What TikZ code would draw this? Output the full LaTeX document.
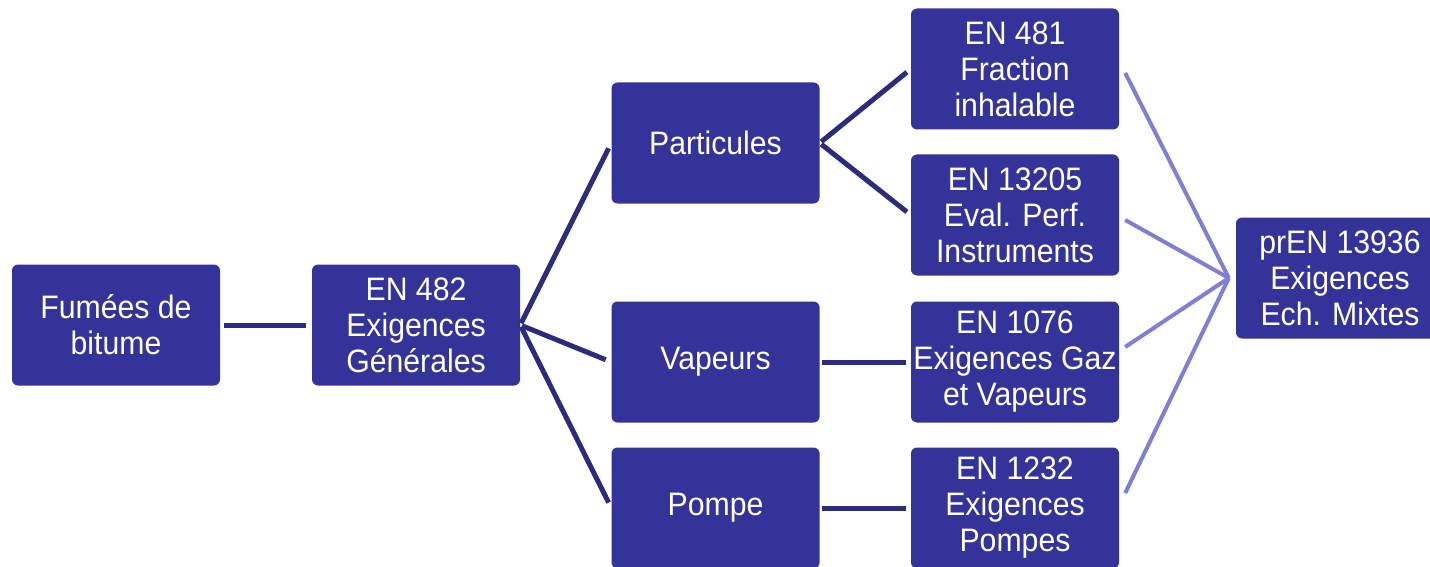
\documentclass[tikz,border=0pt]{standalone}
\usepackage{fontspec}
\setmainfont{Liberation Sans}[FakeStretch=0.93]
\definecolor{boxblue}{HTML}{333399}
\definecolor{linkblue}{HTML}{2C2C7E}
\definecolor{lightblue}{HTML}{7F7FD6}
\begin{document}
\begin{tikzpicture}[x=1pt,y=-1pt,
  box/.style={fill=boxblue, draw=none, rounded corners=6pt, minimum width=208pt,
    minimum height=121pt, text=white, align=center, inner sep=0pt,
    font=\fontsize{32.5}{36}\selectfont},
  link/.style={draw=linkblue, line width=5pt},
  lightlink/.style={draw=lightblue, line width=4pt}]
\useasboundingbox (0,0) rectangle (1430,567);
\clip (0,0) rectangle (1430,567);
\node[box] (fum) at (116,325) {Fumées de\\bitume};
\node[box] (en482) at (416,325) {EN 482\\Exigences\\Générales};
\node[box] (part) at (715.5,143) {Particules};
\node[box] (vap) at (715.5,362) {Vapeurs};
\node[box] (pom) at (715.5,508) {Pompe};
\node[box] (en481) at (1015,69) {EN 481\\Fraction\\inhalable};
\node[box] (en13205) at (1015,215) {EN 13205\\Eval. Perf.\\Instruments};
\node[box] (en1076) at (1015,362) {EN 1076\\Exigences Gaz\\et Vapeurs};
\node[box] (en1232) at (1015,508) {EN 1232\\Exigences\\Pompes};
\node[box] (pren) at (1340,278) {prEN 13936\\Exigences\\Ech. Mixtes};
\draw[link, shorten <=4pt, shorten >=6pt] (fum.east) -- (en482.west);
\draw[link, shorten <=2pt, shorten >=6pt] (en482.east) -- (part.west);
\draw[link, shorten <=2pt, shorten >=6pt] (en482.east) -- (vap.west);
\draw[link, shorten <=2pt, shorten >=6pt] (en482.east) -- (pom.west);
\draw[link, shorten <=2pt, shorten >=5pt] (part.east) -- (en481.west);
\draw[link, shorten <=2pt, shorten >=5pt] (part.east) -- (en13205.west);
\draw[link, shorten <=2pt, shorten >=5pt] (vap.east) -- (en1076.west);
\draw[link, shorten <=2pt, shorten >=5pt] (pom.east) -- (en1232.west);
\coordinate (hub) at ([xshift=-7pt]pren.west);
\draw[lightlink] ([xshift=6pt,yshift=-4pt]en481.east) -- (hub);
\draw[lightlink] ([xshift=6pt,yshift=-5pt]en13205.east) -- (hub);
\draw[lightlink] ([xshift=6pt,yshift=15pt]en1076.east) -- (hub);
\draw[lightlink] ([xshift=6pt,yshift=15pt]en1232.east) -- (hub);
\end{tikzpicture}
\end{document}
